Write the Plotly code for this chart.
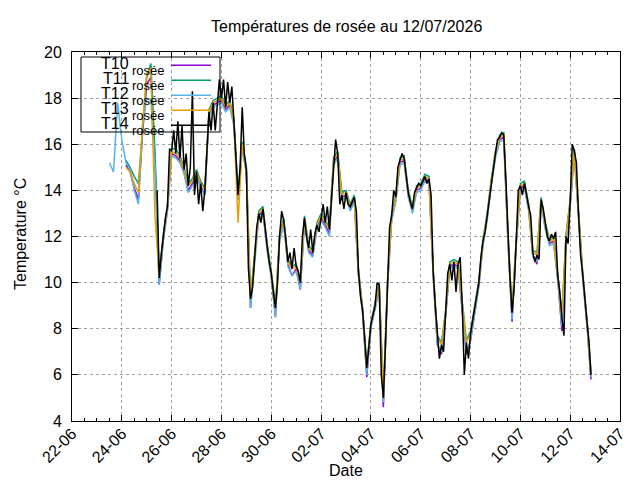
import pandas as pd
import plotly.graph_objects as go

TITLE = "Températures de rosée au 12/07/2026"
SENSORS = ["T10", "T11", "T12", "T13", "T14"]

# dew point readings (°C)
# T14: one value every 2 h from 25/06 10:00
t14_start = "2026-06-25 10:00"
t14_rosee = [
    14.0, 10.2, 11.2, 12.0, 12.8, 13.3, 15.8,
    15.7, 16.6, 15.6, 17.0, 15.4, 16.8, 14.9, 15.6, 14.2, 15.0, 18.3, 13.8,
    14.8, 13.4, 14.3, 13.1, 14.0, 15.6, 17.4, 16.6, 17.8, 16.6, 17.9, 18.8,
    18.0, 18.8, 17.6, 18.7, 17.8, 18.5, 17.0, 15.5, 13.8, 15.0, 17.6, 15.6,
    14.9, 10.6, 9.3, 9.8, 11.2, 12.4, 13.0, 12.6, 13.2, 12.3, 11.6, 10.9,
    10.4, 9.6, 8.9, 10.0, 12.0, 13.1, 12.7, 11.9, 10.9, 11.3, 10.6, 11.5,
    10.7, 10.5, 10.0, 12.0, 12.8, 12.0, 11.5, 12.3, 11.3, 12.1, 12.5, 12.2,
    12.9, 13.4, 12.6, 13.3, 12.3, 13.7, 15.3, 16.2, 15.6, 13.4, 13.8, 13.2,
    13.9, 13.4, 13.3, 13.5, 13.7, 13.1, 10.5, 9.4, 8.8, 7.6, 6.3, 7.2,
    8.2, 8.6, 9.0, 10.0, 9.9, 6.0, 5.0, 7.3, 10.0, 12.4, 12.9, 14.0,
    13.7, 15.0, 15.3, 15.6, 15.4, 14.6, 13.9, 13.5, 13.2, 13.9, 14.1, 14.3,
    14.2, 14.4, 14.6, 14.3, 14.5, 13.8, 10.5, 9.0, 7.6, 6.7, 7.3, 7.0,
    8.7, 10.4, 10.8, 10.1, 10.9, 9.6, 10.8, 11.1, 9.0, 6.0, 7.4, 6.7,
    7.8, 8.4, 8.9, 9.5, 10.0, 11.1, 11.8, 12.2, 12.9, 13.5, 14.4, 14.9,
    15.6, 16.2, 16.3, 16.5, 16.4, 14.5, 12.0, 10.2, 8.7, 9.8, 11.8, 14.0,
    14.2, 13.8, 14.3, 13.7, 13.3, 12.9, 11.3, 10.9, 11.2, 11.0, 13.6, 13.2,
    12.5, 12.0, 11.8, 12.1, 11.9, 12.2, 10.3, 9.6, 8.5, 7.7, 12.0, 11.7,
    13.5, 16.0, 15.7, 15.2, 13.0, 11.2, 10.4, 9.2, 8.4, 7.5, 6.0,
]

# T10, T11, T13: one value every 4 h from 24/06 04:00
t10_start = "2026-06-24 04:00"
t10_rosee = [
    15.1, 14.8, 14.1, 13.6, 16.5, 18.6, 18.9, 15.3,
    9.9, 11.9, 13.2,
    15.6, 15.5, 15.3, 14.8, 14.0, 14.3,
    14.7, 14.2, 13.8, 17.3, 17.7, 17.8,
    17.9, 17.5, 17.7, 16.9, 13.6, 15.9,
    14.8, 8.9, 11.1, 12.9, 13.1, 11.5,
    10.3, 8.5, 11.9, 12.6, 10.8, 10.3,
    10.6, 9.7, 12.7, 11.4, 11.2, 12.4,
    12.8, 12.5, 12.1, 15.2, 15.5, 13.7,
    13.8, 13.2, 13.6, 10.4, 8.7, 5.9,
    8.1, 8.9, 9.8, 4.6, 9.9, 12.8,
    13.6, 15.2, 15.3, 13.8, 13.1, 14.0,
    14.1, 14.5, 14.4, 10.4, 7.3, 6.9,
    8.6, 10.7, 10.8, 10.7, 8.9, 6.9,
    7.5, 8.8, 9.9, 11.7, 12.8, 14.3,
    15.5, 16.2, 16.3, 11.9, 8.3, 11.7,
    14.1, 14.2, 13.2, 11.2, 10.8, 13.5,
    12.4, 11.7, 11.8, 10.2, 7.9, 11.9,
    13.4, 15.6, 12.9, 10.3, 8.3, 5.8,
]

t11_start = "2026-06-24 04:00"
t11_rosee = [
    15.3, 15.0, 14.6, 14.3, 16.6, 18.9, 19.5, 15.6,
    10.4, 12.1, 13.4,
    15.8, 15.8, 15.5, 15.0, 14.3, 14.5,
    14.9, 14.4, 14.1, 17.5, 17.9, 18.0,
    18.1, 17.7, 17.9, 17.1, 13.9, 16.1,
    15.0, 9.4, 11.3, 13.1, 13.3, 11.7,
    10.5, 9.0, 12.1, 12.8, 11.0, 10.7,
    10.8, 10.1, 12.9, 11.6, 11.4, 12.6,
    13.0, 12.7, 12.4, 15.4, 15.7, 13.9,
    14.0, 13.4, 13.8, 10.6, 8.9, 6.4,
    8.3, 9.1, 10.0, 5.1, 10.1, 13.0,
    13.8, 15.4, 15.5, 14.0, 13.3, 14.2,
    14.3, 14.7, 14.6, 10.6, 7.7, 7.4,
    8.8, 10.9, 11.0, 10.9, 9.1, 7.5,
    7.9, 9.0, 10.1, 11.9, 13.0, 14.5,
    15.7, 16.4, 16.5, 12.1, 8.8, 11.9,
    14.3, 14.4, 13.4, 11.4, 11.3, 13.7,
    12.6, 11.9, 12.0, 10.4, 8.6, 12.1,
    13.6, 15.8, 13.1, 10.5, 8.5, 6.2,
]

# T12: one value every 4 h from 23/06 12:00
t12_start = "2026-06-23 12:00"
t12_rosee = [
    15.2, 14.8, 17.8, 16.2, 15.2, 14.9, 14.0, 13.4, 16.8, 18.0, 17.9, 15.0,
    9.9, 11.8, 13.1,
    15.5, 15.4, 15.2, 14.7, 13.9, 14.2,
    14.6, 14.1, 13.8, 17.2, 17.6, 17.7,
    17.8, 17.4, 17.6, 16.8, 13.6, 15.8,
    14.7, 8.9, 11.0, 12.8, 13.0, 11.4,
    10.2, 8.5, 11.8, 12.5, 10.7, 10.3,
    10.5, 9.7, 12.6, 11.3, 11.1, 12.3,
    12.7, 12.4, 12.0, 15.1, 15.4, 13.6,
    13.7, 13.1, 13.5, 10.3, 8.6, 6.0,
    8.0, 8.8, 9.7, 4.8, 9.8, 12.7,
    13.5, 15.1, 15.2, 13.7, 13.0, 13.9,
    14.0, 14.4, 14.3, 10.3, 7.3, 7.0,
    8.5, 10.6, 10.7, 10.6, 8.8, 7.0,
    7.5, 8.7, 9.8, 11.6, 12.7, 14.2,
    15.4, 16.1, 16.2, 11.8, 8.4, 11.6,
    14.0, 14.1, 13.1, 11.1, 10.9, 13.4,
    12.3, 11.6, 11.7, 10.1, 8.1, 11.8,
    13.3, 15.5, 12.8, 10.2, 8.2, 5.9,
]

t13_start = "2026-06-24 04:00"
t13_rosee = [
    15.0, 14.8, 14.3, 13.9, 16.9, 19.1, 19.3, 12.8,
    10.3, 12.0, 13.3,
    15.7, 15.6, 15.4, 14.9, 14.2, 14.4,
    14.8, 14.3, 14.0, 17.4, 17.8, 17.9,
    18.0, 17.6, 17.8, 17.0, 12.6, 16.0,
    14.9, 9.3, 11.2, 13.0, 13.2, 11.6,
    10.4, 8.9, 12.0, 12.7, 10.9, 10.6,
    10.7, 10.0, 12.8, 11.5, 11.3, 12.5,
    12.9, 12.6, 12.3, 15.3, 15.6, 13.8,
    13.9, 13.3, 13.7, 10.5, 8.8, 6.3,
    8.2, 9.0, 9.9, 5.0, 10.0, 12.9,
    13.7, 15.3, 15.4, 13.9, 13.2, 14.1,
    14.2, 14.6, 14.5, 10.5, 7.6, 7.3,
    8.7, 10.8, 10.9, 10.8, 9.0, 7.4,
    7.8, 8.9, 10.0, 11.8, 12.9, 14.4,
    15.6, 16.3, 16.4, 12.0, 8.7, 11.8,
    14.2, 14.3, 13.3, 11.3, 11.2, 13.6,
    12.5, 11.8, 11.9, 10.3, 8.5, 12.0,
    13.5, 15.7, 13.0, 10.4, 8.4, 6.0,
]

series = [
    ("T10", t10_start, "4h", t10_rosee),
    ("T11", t11_start, "4h", t11_rosee),
    ("T12", t12_start, "4h", t12_rosee),
    ("T13", t13_start, "4h", t13_rosee),
    ("T14", t14_start, "2h", t14_rosee),
]
colors = {"T10": "#9400d3", "T11": "#009e73", "T12": "#56b4e9",
          "T13": "#e69f00", "T14": "#000000"}

FONT = "Liberation Sans, Arial, sans-serif"
# plot area in pixels: x 64..612, y 44..413
L, R, T, B = 64, 612, 44, 413


def xp(px):
    return (px - L) / (R - L)


def yp(py):
    return (B - py) / (B - T)


fig = go.Figure()
for name, start, freq, vals in series:
    fig.add_trace(go.Scatter(
        x=pd.date_range(start, periods=len(vals), freq=freq),
        y=vals,
        mode="lines",
        name=name + " rosée",
        line=dict(color=colors[name], width=1.5),
        showlegend=False,
    ))

# gnuplot-like key: text on the left, sample line on the right
shapes = [dict(type="rect", xref="paper", yref="paper",
               x0=xp(73), x1=xp(212), y0=yp(124), y1=yp(49),
               line=dict(color="black", width=1), layer="above")]
annotations = []
for i, name in enumerate(SENSORS):
    row = 57.3 + 15 * i
    shapes.append(dict(type="line", xref="paper", yref="paper",
                       x0=xp(163), x1=xp(203), y0=yp(row), y1=yp(row),
                       line=dict(color=colors[name], width=1.5), layer="above"))
    annotations.append(dict(text=name, xref="paper", yref="paper",
                            x=xp(123), y=yp(row - 1.5), xanchor="right",
                            yanchor="middle", showarrow=False,
                            font=dict(size=16)))
    annotations.append(dict(text="rosée", xref="paper", yref="paper",
                            x=xp(122), y=yp(row + 5), xanchor="left",
                            yanchor="middle", showarrow=False,
                            font=dict(size=13)))

annotations += [
    dict(text=TITLE, xref="paper", yref="paper", x=0.5, y=yp(19),
         xanchor="center", yanchor="middle", showarrow=False, font=dict(size=16)),
    dict(text="Date", xref="paper", yref="paper", x=0.5, y=yp(462),
         xanchor="center", yanchor="middle", showarrow=False, font=dict(size=16)),
    dict(text="Temperature °C", xref="paper", yref="paper", x=xp(12), y=yp(226),
         xanchor="center", yanchor="middle", textangle=-90, showarrow=False,
         font=dict(size=16)),
]

fig.update_layout(
    width=640,
    height=480,
    margin=dict(l=L, r=640 - R, t=T, b=480 - B, autoexpand=False),
    paper_bgcolor="white",
    plot_bgcolor="white",
    font=dict(family=FONT, size=16, color="black"),
    shapes=shapes,
    annotations=annotations,
)
fig.update_xaxes(
    type="date",
    range=["2026-06-22", "2026-07-14"],
    tick0="2026-06-22",
    dtick=2 * 86400000,
    tickformat="%d-%m",
    tickangle=-45,
    ticks="inside",
    ticklen=6,
    tickcolor="black",
    ticklabelstandoff=-4,
    showline=True,
    linecolor="black",
    linewidth=1,
    mirror="allticks",
    showgrid=True,
    gridcolor="#a0a0a0",
    griddash="3px,3px",
    gridwidth=1,
    zeroline=False,
    automargin=False,
    minor=dict(dtick=43200000, ticks="inside", ticklen=3, tickcolor="black",
               showgrid=False),
)
fig.update_yaxes(
    range=[4, 20],
    dtick=2,
    ticks="inside",
    ticklen=6,
    tickcolor="black",
    showline=True,
    linecolor="black",
    linewidth=1,
    mirror="allticks",
    showgrid=True,
    gridcolor="#a0a0a0",
    griddash="3px,3px",
    gridwidth=1,
    zeroline=False,
    automargin=False,
    ticklabelstandoff=6,
)

fig.write_html("out.html")
